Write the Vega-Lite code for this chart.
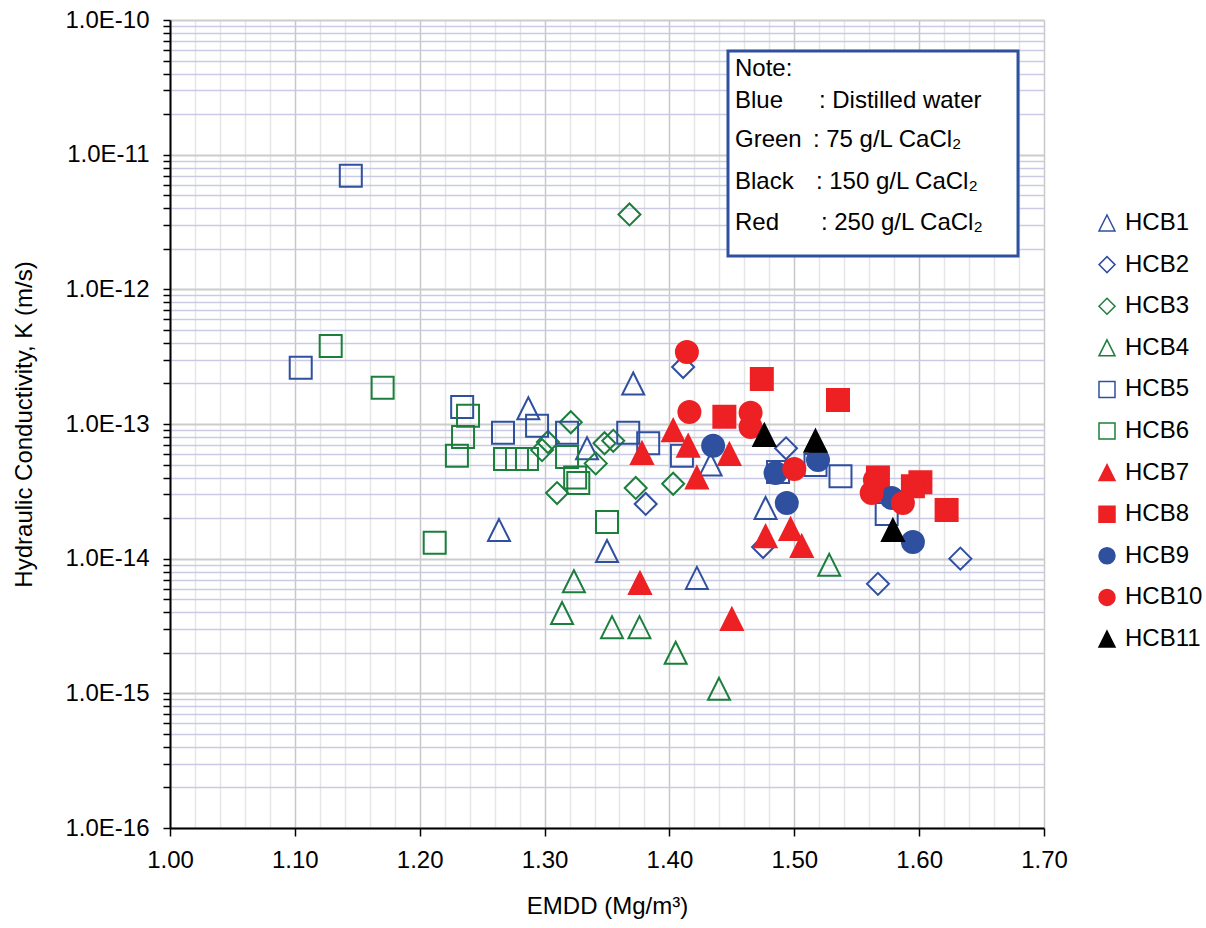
{
  "$schema": "https://vega.github.io/schema/vega-lite/v6.json",
  "width": 874,
  "height": 808,
  "autosize": {"type": "none"},
  "padding": {"left": 170, "top": 20, "right": 162, "bottom": 100},
  "background": "white",
  "config": {
    "view": {"stroke": null},
    "font": "Liberation Sans",
    "axis": {"labelFont": "Liberation Sans", "titleFont": "Liberation Sans"}
  },
  "encoding": {
    "x": {
      "field": "emdd",
      "type": "quantitative",
      "title": "EMDD (Mg/m³)",
      "scale": {"domain": [1, 1.7], "nice": false, "zero": false},
      "axis": {
        "values": [1, 1.02, 1.04, 1.06, 1.08, 1.1, 1.12, 1.14, 1.16, 1.18, 1.2, 1.22, 1.24, 1.26, 1.28, 1.3, 1.32, 1.34, 1.36, 1.38, 1.4, 1.42, 1.44, 1.46, 1.48, 1.5, 1.52, 1.54, 1.56, 1.58, 1.6, 1.62, 1.64, 1.66, 1.68, 1.7],
        "labelExpr": "abs(datum.value*10 - round(datum.value*10)) < 0.01 ? format(datum.value, '.2f') : ''",
        "labelFlush": false,
        "labelOverlap": false,
        "labelFontSize": 24,
        "labelColor": "black",
        "labelPadding": 12,
        "tickSize": 8,
        "tickColor": "black",
        "tickWidth": 1.5,
        "tickOpacity": {"condition": {"test": "abs(datum.value*10 - round(datum.value*10)) < 0.01", "value": 1}, "value": 0},
        "domainColor": "black",
        "domainWidth": 2,
        "grid": true,
        "gridColor": {"condition": {"test": "abs(datum.value*10 - round(datum.value*10)) < 0.01", "value": "#c8c8c8"}, "value": "#e6e6e6"},
        "gridWidth": 1.5,
        "titleFontSize": 24,
        "titleFontWeight": "normal",
        "titleColor": "black",
        "titlePadding": 22
      }
    },
    "y": {
      "field": "k",
      "type": "quantitative",
      "title": "Hydraulic Conductivity, K (m/s)",
      "scale": {"type": "log", "domain": [1e-16, 1e-10], "nice": false},
      "axis": {
        "values": [1e-16, 2e-16, 3e-16, 4e-16, 5e-16, 6e-16, 7e-16, 8e-16, 9e-16,
                   1e-15, 2e-15, 3e-15, 4e-15, 5e-15, 6e-15, 7e-15, 8e-15, 9e-15,
                   1e-14, 2e-14, 3e-14, 4e-14, 5e-14, 6e-14, 7e-14, 8e-14, 9e-14,
                   1e-13, 2e-13, 3e-13, 4e-13, 5e-13, 6e-13, 7e-13, 8e-13, 9e-13,
                   1e-12, 2e-12, 3e-12, 4e-12, 5e-12, 6e-12, 7e-12, 8e-12, 9e-12,
                   1e-11, 2e-11, 3e-11, 4e-11, 5e-11, 6e-11, 7e-11, 8e-11, 9e-11,
                   1e-10],
        "labelExpr": "abs(log(datum.value)/LN10 - round(log(datum.value)/LN10)) < 0.01 ? '1.0E-' + round(-log(datum.value)/LN10) : ''",
        "labelOverlap": false,
        "labelFontSize": 24,
        "labelColor": "black",
        "labelPadding": 14,
        "tickSize": 7,
        "tickColor": "black",
        "tickWidth": 1.5,
        "domainColor": "black",
        "domainWidth": 2,
        "grid": true,
        "gridColor": {"condition": {"test": "abs(log(datum.value)/LN10 - round(log(datum.value)/LN10)) < 0.01", "value": "#cccccc"}, "value": "#cacae6"},
        "gridWidth": {"condition": {"test": "abs(log(datum.value)/LN10 - round(log(datum.value)/LN10)) < 0.01", "value": 2}, "value": 1.5},
        "titleFontSize": 24,
        "titleFontWeight": "normal",
        "titleColor": "black",
        "titlePadding": 28
      }
    }
  },
  "layer": [
    {
      "data": {
        "values": [
          {"series": "HCB1", "emdd": 1.371, "k": 2.0e-13},
          {"series": "HCB1", "emdd": 1.287, "k": 1.31e-13},
          {"series": "HCB1", "emdd": 1.334, "k": 6.6e-14},
          {"series": "HCB1", "emdd": 1.2635, "k": 1.63e-14},
          {"series": "HCB1", "emdd": 1.35, "k": 1.14e-14},
          {"series": "HCB1", "emdd": 1.422, "k": 7.2e-15},
          {"series": "HCB1", "emdd": 1.433, "k": 5.0e-14},
          {"series": "HCB1", "emdd": 1.477, "k": 2.38e-14},
          {"series": "HCB2", "emdd": 1.411, "k": 2.65e-13},
          {"series": "HCB2", "emdd": 1.381, "k": 2.55e-14},
          {"series": "HCB2", "emdd": 1.4934, "k": 6.6e-14},
          {"series": "HCB2", "emdd": 1.475, "k": 1.22e-14},
          {"series": "HCB2", "emdd": 1.567, "k": 6.5e-15},
          {"series": "HCB2", "emdd": 1.633, "k": 1.0e-14},
          {"series": "HCB3", "emdd": 1.368, "k": 3.6e-12},
          {"series": "HCB3", "emdd": 1.321, "k": 1.03e-13},
          {"series": "HCB3", "emdd": 1.298, "k": 6.4e-14},
          {"series": "HCB3", "emdd": 1.3027, "k": 7.35e-14},
          {"series": "HCB3", "emdd": 1.31, "k": 3.07e-14},
          {"series": "HCB3", "emdd": 1.341, "k": 5.1e-14},
          {"series": "HCB3", "emdd": 1.348, "k": 7.2e-14},
          {"series": "HCB3", "emdd": 1.355, "k": 7.5e-14},
          {"series": "HCB3", "emdd": 1.373, "k": 3.35e-14},
          {"series": "HCB3", "emdd": 1.403, "k": 3.6e-14},
          {"series": "HCB4", "emdd": 1.3235, "k": 6.8e-15},
          {"series": "HCB4", "emdd": 1.314, "k": 3.95e-15},
          {"series": "HCB4", "emdd": 1.354, "k": 3.1e-15},
          {"series": "HCB4", "emdd": 1.376, "k": 3.1e-15},
          {"series": "HCB4", "emdd": 1.405, "k": 2.0e-15},
          {"series": "HCB4", "emdd": 1.4397, "k": 1.08e-15},
          {"series": "HCB4", "emdd": 1.528, "k": 9.0e-15},
          {"series": "HCB5", "emdd": 1.1448, "k": 6.98e-12},
          {"series": "HCB5", "emdd": 1.1047, "k": 2.62e-13},
          {"series": "HCB5", "emdd": 1.234, "k": 1.34e-13},
          {"series": "HCB5", "emdd": 1.2667, "k": 8.6e-14},
          {"series": "HCB5", "emdd": 1.294, "k": 9.7e-14},
          {"series": "HCB5", "emdd": 1.318, "k": 8.6e-14},
          {"series": "HCB5", "emdd": 1.367, "k": 8.6e-14},
          {"series": "HCB5", "emdd": 1.383, "k": 7.2e-14},
          {"series": "HCB5", "emdd": 1.41, "k": 5.8e-14},
          {"series": "HCB5", "emdd": 1.487, "k": 4.4e-14},
          {"series": "HCB5", "emdd": 1.517, "k": 4.97e-14},
          {"series": "HCB5", "emdd": 1.537, "k": 4.1e-14},
          {"series": "HCB5", "emdd": 1.574, "k": 2.15e-14},
          {"series": "HCB6", "emdd": 1.1287, "k": 3.8e-13},
          {"series": "HCB6", "emdd": 1.1703, "k": 1.86e-13},
          {"series": "HCB6", "emdd": 1.2387, "k": 1.15e-13},
          {"series": "HCB6", "emdd": 1.2347, "k": 8.0e-14},
          {"series": "HCB6", "emdd": 1.2298, "k": 5.8e-14},
          {"series": "HCB6", "emdd": 1.2683, "k": 5.5e-14},
          {"series": "HCB6", "emdd": 1.2779, "k": 5.5e-14},
          {"series": "HCB6", "emdd": 1.2859, "k": 5.5e-14},
          {"series": "HCB6", "emdd": 1.318, "k": 5.7e-14},
          {"series": "HCB6", "emdd": 1.3245, "k": 4.0e-14},
          {"series": "HCB6", "emdd": 1.327, "k": 3.65e-14},
          {"series": "HCB6", "emdd": 1.35, "k": 1.87e-14},
          {"series": "HCB6", "emdd": 1.212, "k": 1.31e-14},
          {"series": "HCB7", "emdd": 1.403, "k": 9.0e-14},
          {"series": "HCB7", "emdd": 1.415, "k": 6.9e-14},
          {"series": "HCB7", "emdd": 1.378, "k": 6.1e-14},
          {"series": "HCB7", "emdd": 1.422, "k": 4.0e-14},
          {"series": "HCB7", "emdd": 1.448, "k": 6.0e-14},
          {"series": "HCB7", "emdd": 1.3764, "k": 6.6e-15},
          {"series": "HCB7", "emdd": 1.45, "k": 3.56e-15},
          {"series": "HCB7", "emdd": 1.477, "k": 1.47e-14},
          {"series": "HCB7", "emdd": 1.497, "k": 1.66e-14},
          {"series": "HCB7", "emdd": 1.506, "k": 1.24e-14},
          {"series": "HCB8", "emdd": 1.474, "k": 2.16e-13},
          {"series": "HCB8", "emdd": 1.535, "k": 1.51e-13},
          {"series": "HCB8", "emdd": 1.444, "k": 1.13e-13},
          {"series": "HCB8", "emdd": 1.567, "k": 4.0e-14},
          {"series": "HCB8", "emdd": 1.601, "k": 3.7e-14},
          {"series": "HCB8", "emdd": 1.595, "k": 3.45e-14},
          {"series": "HCB8", "emdd": 1.622, "k": 2.3e-14},
          {"series": "HCB9", "emdd": 1.435, "k": 6.9e-14},
          {"series": "HCB9", "emdd": 1.485, "k": 4.33e-14},
          {"series": "HCB9", "emdd": 1.494, "k": 2.59e-14},
          {"series": "HCB9", "emdd": 1.519, "k": 5.4e-14},
          {"series": "HCB9", "emdd": 1.578, "k": 2.82e-14},
          {"series": "HCB9", "emdd": 1.595, "k": 1.33e-14},
          {"series": "HCB10", "emdd": 1.414, "k": 3.43e-13},
          {"series": "HCB10", "emdd": 1.416, "k": 1.23e-13},
          {"series": "HCB10", "emdd": 1.465, "k": 1.21e-13},
          {"series": "HCB10", "emdd": 1.465, "k": 9.5e-14},
          {"series": "HCB10", "emdd": 1.5, "k": 4.63e-14},
          {"series": "HCB10", "emdd": 1.562, "k": 3.07e-14},
          {"series": "HCB10", "emdd": 1.5646, "k": 3.84e-14},
          {"series": "HCB10", "emdd": 1.587, "k": 2.59e-14},
          {"series": "HCB11", "emdd": 1.476, "k": 8.3e-14},
          {"series": "HCB11", "emdd": 1.517, "k": 7.5e-14},
          {"series": "HCB11", "emdd": 1.579, "k": 1.63e-14}
        ]
      },
      "mark": {"type": "point", "size": 484, "strokeWidth": 2, "opacity": 1},
      "encoding": {
        "shape": {
          "field": "series",
          "type": "nominal",
          "scale": {
            "domain": ["HCB1", "HCB2", "HCB3", "HCB4", "HCB5", "HCB6", "HCB7", "HCB8", "HCB9", "HCB10", "HCB11"],
            "range": ["M0,-1L1,1L-1,1Z", "diamond", "diamond", "M0,-1L1,1L-1,1Z", "square", "square", "M0,-1L1,1L-1,1Z", "square", "circle", "circle", "M0,-1L1,1L-1,1Z"]
          },
          "legend": {
            "title": null,
            "orient": "none",
            "legendX": 925,
            "legendY": 191,
            "symbolSize": 256,
            "symbolStrokeWidth": 1.5,
            "labelFontSize": 24,
            "labelFont": "Liberation Sans",
            "labelColor": "black",
            "labelOffset": 6,
            "rowPadding": 17.6,
            "padding": 0
          }
        },
        "stroke": {
          "field": "series",
          "type": "nominal",
          "scale": {
            "domain": ["HCB1", "HCB2", "HCB3", "HCB4", "HCB5", "HCB6", "HCB7", "HCB8", "HCB9", "HCB10", "HCB11"],
            "range": ["#2f4f9f", "#2f4f9f", "#1b7f3b", "#1b7f3b", "#2f4f9f", "#1b7f3b", "#ed2024", "#ed2024", "#2f4f9f", "#ed2024", "#000000"]
          },
          "legend": {"title": null}
        },
        "fill": {
          "field": "series",
          "type": "nominal",
          "scale": {
            "domain": ["HCB1", "HCB2", "HCB3", "HCB4", "HCB5", "HCB6", "HCB7", "HCB8", "HCB9", "HCB10", "HCB11"],
            "range": ["transparent", "transparent", "transparent", "transparent", "transparent", "transparent", "#ed2024", "#ed2024", "#2f4f9f", "#ed2024", "#000000"]
          },
          "legend": {"title": null}
        }
      }
    },
    {
      "data": {"values": [{"emdd": 1.4469, "emdd2": 1.6792, "k": 5.886e-11, "k2": 1.768e-12}]},
      "mark": {"type": "rect", "fill": "white", "stroke": "#2f4f9f", "strokeWidth": 3},
      "encoding": {
        "x2": {"field": "emdd2"},
        "y2": {"field": "k2"}
      }
    },
    {
      "data": {
        "values": [
          {"emdd": 1.4525, "k": 4.31e-11, "label": "Note:"},
          {"emdd": 1.4525, "k": 2.503e-11, "label": "Blue"},
          {"emdd": 1.5197, "k": 2.503e-11, "label": ": Distilled water"},
          {"emdd": 1.4525, "k": 1.285e-11, "label": "Green"},
          {"emdd": 1.5149, "k": 1.285e-11, "label": ": 75 g/L  CaCl₂"},
          {"emdd": 1.4525, "k": 6.30e-12, "label": "Black"},
          {"emdd": 1.5173, "k": 6.30e-12, "label": ": 150 g/L CaCl₂"},
          {"emdd": 1.4525, "k": 3.126e-12, "label": "Red"},
          {"emdd": 1.5213, "k": 3.126e-12, "label": ": 250 g/L CaCl₂"}
        ]
      },
      "mark": {"type": "text", "align": "left", "baseline": "middle", "fontSize": 24, "font": "Liberation Sans", "color": "black"},
      "encoding": {
        "text": {"field": "label"}
      }
    }
  ]
}
